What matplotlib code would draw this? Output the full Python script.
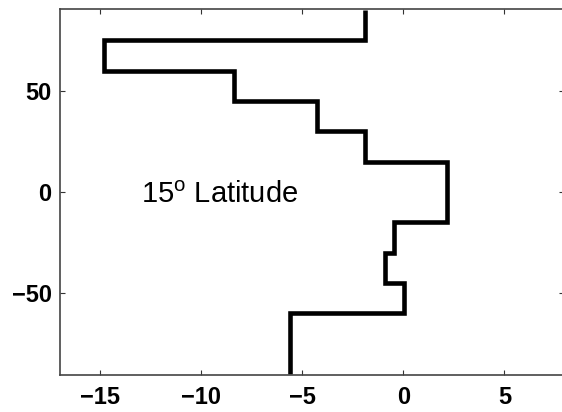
import matplotlib
matplotlib.use("Agg")
import matplotlib.pyplot as plt
import numpy as np

plt.rcParams['font.family'] = ['Liberation Sans', 'DejaVu Sans']
plt.rcParams['mathtext.fontset'] = 'custom'
plt.rcParams['mathtext.rm'] = 'Liberation Sans'

# latitude band edges (deg) and the band values, south to north
lat_edges = [-90, -75, -60, -45, -30, -15, 0, 15, 30, 45, 60, 75, 90]
band_values = [-5.6, -5.6, 0.05, -0.9, -0.45, 2.15, 2.15, -1.9, -4.3, -8.4, -14.8, -1.9]
xticks = [-15, -10, -5, 0, 5]
yticks = [-50, 0, 50]


def fmt(t):
    return '\u2212' + str(abs(t)) if t < 0 else str(t)


fig = plt.figure(figsize=(5.62, 4.12), dpi=100)
ax = fig.add_axes([0.1068, 0.0898, 0.8968, 0.888])

ax.stairs(band_values, lat_edges, orientation='horizontal', baseline=None,
          color='black', linewidth=3.3)

ax.set_xlim(-17, 7.95)
ax.set_ylim(-90.5, 90.5)
ax.set_xticks(xticks)
ax.set_yticks(yticks)
ax.set_xticklabels([fmt(t) for t in xticks])
ax.set_yticklabels([fmt(t) for t in yticks])
ax.tick_params(direction='in', length=3.6, width=0.8, top=True, right=True,
               labelsize=17, color='#333333')
ax.tick_params(axis='x', pad=8)
ax.tick_params(axis='y', pad=6)
for lbl in ax.get_xticklabels() + ax.get_yticklabels():
    lbl.set_fontweight('bold')
for s in ax.spines.values():
    s.set_linewidth(1.2)
    s.set_color('#444444')

ax.text(-13.0, -1.5, r'15$^{\mathrm{o}}$ Latitude', fontsize=21, va='center', ha='left')

fig.savefig('out.png', dpi=100)
